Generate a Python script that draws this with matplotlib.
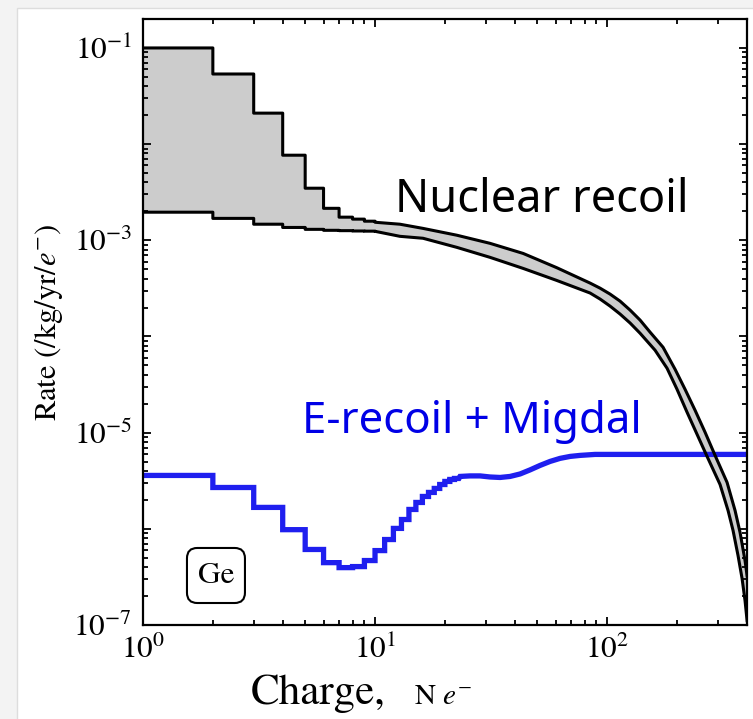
import numpy as np
import matplotlib.pyplot as plt
from matplotlib.patches import Rectangle, FancyBboxPatch
from matplotlib.ticker import LogLocator, NullFormatter

plt.rcParams['mathtext.fontset'] = 'stix'
plt.rcParams['font.family'] = ['STIXGeneral', 'DejaVu Serif']

# ---- nuclear recoil band: integer-charge bins, then the smooth tail ----
nr_up_bins  = [1.0e-1, 5.36e-2, 2.10e-2, 7.67e-3, 3.48e-3, 2.15e-3, 1.74e-3, 1.66e-3, 1.58e-3]
nr_lo_bins  = [1.96e-3, 1.69e-3, 1.47e-3, 1.36e-3, 1.30e-3, 1.27e-3, 1.26e-3, 1.25e-3, 1.245e-3]

nr_up_q     = [10, 12.8, 16.1, 22.5, 31.3, 43.5, 60.6, 84.5, 93.3, 103.0, 113.8, 125.7, 138.8,
               153.2, 174.3, 196.4, 216.9, 239.5, 264.5, 292.1, 329.0, 356.2, 374.4, 393.3, 401.3]
nr_up_rate  = [1.54e-3, 1.47e-3, 1.33e-3, 1.13e-3, 9.3e-4, 7.3e-4, 5.2e-4, 3.59e-4, 3.18e-4,
               2.76e-4, 2.33e-4, 1.88e-4, 1.48e-4, 1.11e-4, 7.73e-5, 4.56e-5, 2.82e-5, 1.71e-5,
               1.01e-5, 5.80e-6, 3.04e-6, 1.55e-6, 9.15e-7, 4.67e-7, 3.26e-7]
nr_lo_q     = [10, 12.8, 16.1, 22.5, 31.3, 43.5, 60.6, 84.5, 93.3, 103.0, 113.8, 125.7, 138.8,
               161.0, 181.4, 200.3, 221.2, 244.3, 269.8, 306.9, 332.3, 349.2, 366.9, 381.9, 393.3, 401.3]
nr_lo_rate  = [1.24e-3, 1.10e-3, 1.05e-3, 8.45e-4, 6.65e-4, 5.1e-4, 3.83e-4, 2.83e-4, 2.45e-4,
               2.07e-4, 1.71e-4, 1.38e-4, 1.08e-4, 7.20e-5, 4.67e-5, 2.82e-5, 1.63e-5, 9.60e-6,
               5.66e-6, 2.89e-6, 1.55e-6, 9.60e-7, 5.27e-7, 3.04e-7, 1.79e-7, 1.11e-7]

# ---- electron recoil + Migdal ----
er_bins     = [3.59e-6, 2.69e-6, 1.67e-6, 9.8e-7, 6.1e-7, 4.45e-7, 3.95e-7, 4.05e-7, 4.68e-7,
               5.94e-7, 7.74e-7, 1.01e-6, 1.25e-6, 1.59e-6, 1.88e-6, 2.17e-6, 2.39e-6, 2.63e-6,
               2.89e-6, 3.11e-6, 3.26e-6, 3.34e-6]
er_q        = [23.25, 25.67, 28.36, 31.3, 34.58, 38.2, 42.2, 46.58, 51.4, 56.8, 62.7, 69.3,
               76.5, 88.8, 401]
er_rate     = [3.505e-6, 3.55e-6, 3.55e-6, 3.46e-6, 3.42e-6, 3.505e-6, 3.72e-6, 4.10e-6, 4.56e-6,
               5.02e-6, 5.40e-6, 5.66e-6, 5.80e-6, 5.94e-6, 5.94e-6]


# step outline of per-bin values (bin n covers [n, n+1)) followed by a tail curve
def stepPath(bins, q, rate):
    xs, ys = [], []
    for i, v in enumerate(bins):
        xs += [i + 1, i + 2]
        ys += [v, v]
    return np.array(xs + list(q), float), np.array(ys + list(rate), float)


xu, yu = stepPath(nr_up_bins, nr_up_q, nr_up_rate)
xl, yl = stepPath(nr_lo_bins, nr_lo_q, nr_lo_rate)
xe, ye = stepPath(er_bins, er_q, er_rate)

fig = plt.figure(figsize=(7.53, 7.19), dpi=100, facecolor='#f3f3f3')
fig.patches.append(Rectangle((17 / 753, -0.01), 1, 1.01 - 8 / 719, transform=fig.transFigure,
                             facecolor='white', edgecolor='#dddddd', lw=1.0, zorder=-10))
ax = fig.add_axes([143 / 753, 1 - 625 / 719, 604 / 753, 606 / 719])

ax.fill(np.concatenate([xu, xl[::-1]]), np.concatenate([yu, yl[::-1]]),
        color='#cccccc', lw=0, zorder=1)
ax.plot(xu, yu, color='black', lw=2.2, zorder=3)
ax.plot(xl, yl, color='black', lw=2.2, zorder=3)
ax.plot(xe, ye, color='#1f1fef', lw=3.8, zorder=2, solid_joinstyle='miter')

ax.set_xscale('log')
ax.set_yscale('log')
ax.set_xlim(1, 401)
ax.set_ylim(1e-7, 2e-1)

ax.set_xticks([1, 10, 100])
ax.set_xticklabels([r'$10^{0}$', r'$10^{1}$', r'$10^{2}$'])
ax.set_yticks([10.0 ** k for k in range(-7, 0)])
ax.set_yticklabels([r'$10^{%d}$' % k if k % 2 else '' for k in range(-7, 0)])
ax.xaxis.set_minor_locator(LogLocator(base=10, subs=np.arange(2, 10), numticks=20))
ax.yaxis.set_minor_locator(LogLocator(base=10, subs=np.arange(2, 10), numticks=20))
ax.xaxis.set_minor_formatter(NullFormatter())
ax.yaxis.set_minor_formatter(NullFormatter())
ax.tick_params(which='both', direction='in', top=True, right=True, width=1.3, labelsize=22.5)
ax.tick_params(which='major', length=6, pad=8)
ax.tick_params(which='minor', length=3.5)
for s in ax.spines.values():
    s.set_linewidth(1.6)

ax.set_ylabel(r'Rate (/kg/yr/$e^{-}$)', fontsize=22, labelpad=6)
ax.text(0.178, -0.13, 'Charge,', transform=ax.transAxes, fontsize=31, ha='left', va='baseline')
ax.text(0.449, -0.13, r'N $e^{-}$', transform=ax.transAxes, fontsize=21, ha='left', va='baseline')

ax.text(0.417, 0.6815, 'Nuclear recoil', transform=ax.transAxes, fontsize=32.5,
        family='Noto Sans', color='black', ha='left', va='baseline')
ax.text(0.263, 0.317, 'E-recoil + Migdal', transform=ax.transAxes, fontsize=31.5,
        family='Noto Sans', color='#0000e6', ha='left', va='baseline')

# material tag in a rounded box
ax.add_patch(FancyBboxPatch((0.0728, 0.0363), 0.096, 0.0908, transform=ax.transAxes,
                            boxstyle='round,pad=0,rounding_size=0.017',
                            facecolor='white', edgecolor='black', lw=1.5, zorder=4))
ax.text(0.121, 0.081, 'Ge', transform=ax.transAxes, fontsize=22.5, ha='center', va='center',
        zorder=5)

fig.savefig('out.png', dpi=100, facecolor=fig.get_facecolor())
